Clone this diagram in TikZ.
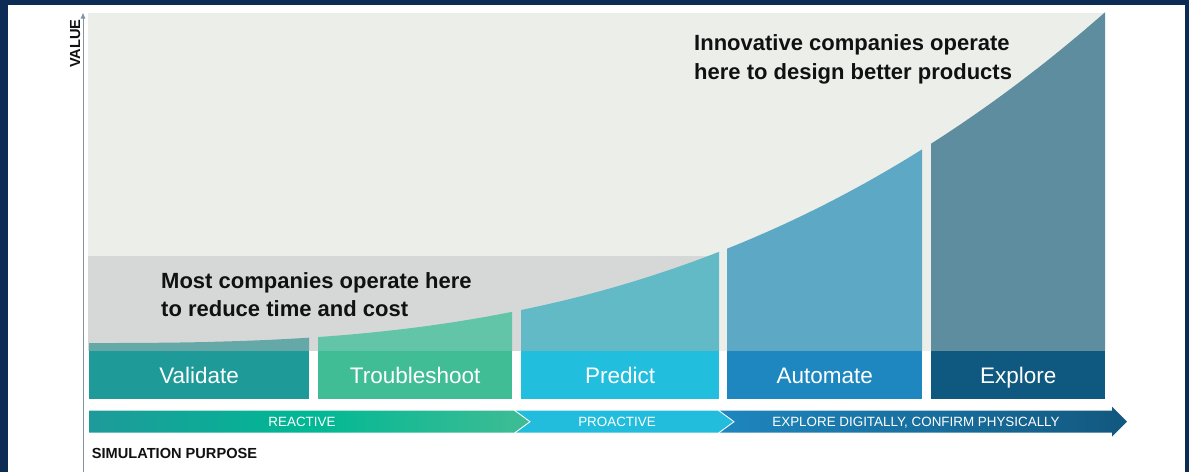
\documentclass[tikz,border=0pt]{standalone}
\usepackage{fontspec}
\setmainfont{Liberation Sans}
\usepackage{tikz}
\usetikzlibrary{arrows.meta}
\usetikzlibrary{positioning}
\usepackage{color}

\definecolor{framenavy}{HTML}{0C2B55}
\definecolor{plotbg}{HTML}{ECEEEA}
\definecolor{bandgray}{HTML}{D6D8D7}
\definecolor{axisgray}{HTML}{8293A6}
\definecolor{valtop}{HTML}{64A9A8}
\definecolor{vallow}{HTML}{1E9A98}
\definecolor{trbtop}{HTML}{62C5A8}
\definecolor{trblow}{HTML}{40BD95}
\definecolor{pretop}{HTML}{61BAC5}
\definecolor{prelow}{HTML}{22BEDE}
\definecolor{auttop}{HTML}{5DA9C5}
\definecolor{autlow}{HTML}{1E87C0}
\definecolor{exptop}{HTML}{5E8DA0}
\definecolor{explow}{HTML}{0F5880}
\definecolor{reactA}{HTML}{1E9A9A}
\definecolor{reactB}{HTML}{00B894}
\definecolor{reactC}{HTML}{40BC94}
\definecolor{proact}{HTML}{22BCDC}
\definecolor{explA}{HTML}{1E86BE}
\definecolor{explB}{HTML}{12587F}
\definecolor{claimink}{HTML}{111111}

\tikzset{
  stagebox/.style={anchor=north west,inner sep=0pt,minimum height=48pt,text=white,text height=16pt,text depth=0pt,font=\fontsize{22.5}{26}\selectfont},
  phasetext/.style={text=white,inner sep=0pt,text height=9.5pt,text depth=0pt,font=\fontsize{13.4}{16}\selectfont},
  claimtext/.style={anchor=north west,inner sep=0pt,align=left,text=claimink,font=\bfseries\fontsize{22}{28.5}\selectfont},
  axislabel/.style={inner sep=0pt,text=claimink,font=\bfseries\fontsize{14.6}{16}\selectfont},
}

\begin{document}
\begin{tikzpicture}[x=1pt,y=-1pt,declare function={valcurve(\t)=343-316*pow((\t-88)/1000,2.7);}]
    \useasboundingbox (0,0) rectangle (1189,472);
    \fill[framenavy] (0,0) rectangle (1189,472);
    \fill[white] (8,5) rectangle (1185,472);

    \fill[plotbg] (88,13) rectangle (1105,351);
    \fill[bandgray] (88,256) rectangle (719,351);

    \fill[valtop] (89,351) -- plot[domain=89:309,samples=25] (\x,{valcurve(\x)}) -- (309,351) -- cycle;
    \fill[trbtop] (318,351) -- plot[domain=318:512,samples=25] (\x,{valcurve(\x)}) -- (512,351) -- cycle;
    \fill[pretop] (521,351) -- plot[domain=521:719,samples=25] (\x,{valcurve(\x)}) -- (719,351) -- cycle;
    \fill[auttop] (727,351) -- plot[domain=727:922,samples=25] (\x,{valcurve(\x)}) -- (922,351) -- cycle;
    \fill[exptop] (931,351) -- plot[domain=931:1105,samples=25] (\x,{valcurve(\x)}) -- (1105,351) -- cycle;

    \node[stagebox,fill=vallow,minimum width=220pt] (validate) at (89,351) {Validate};
    \node[stagebox,fill=trblow,minimum width=194pt] (troubleshoot) at (318,351) {Troubleshoot};
    \node[stagebox,fill=prelow,minimum width=198pt] (predict) at (521,351) {Predict};
    \node[stagebox,fill=autlow,minimum width=195pt] (automate) at (727,351) {Automate};
    \node[stagebox,fill=explow,minimum width=174pt] (explore) at (931,351) {Explore};

    \shade[left color=reactA,right color=reactC,middle color=reactB] (89,410.7) -- (514,410.7) -- (529,421.7) -- (514,432.7) -- (89,432.7) -- cycle;
    \fill[proact] (516,410.7) -- (718,410.7) -- (733,421.7) -- (718,432.7) -- (516,432.7) -- (531,421.7) -- cycle;
    \shade[left color=explA,right color=explB] (720,410.7) -- (1112,410.7) -- (1112,406.7) -- (1127,421.7) -- (1112,436.7) -- (1112,432.7) -- (720,432.7) -- (735,421.7) -- cycle;

    \node[phasetext] (reactive) at (302,421.7) {REACTIVE};
    \node[phasetext] (proactive) at (617,421.7) {PROACTIVE};
    \node[phasetext] (digital) at (916,421.7) {EXPLORE DIGITALLY, CONFIRM PHYSICALLY};

    \node[claimtext] (most) at (161,272.3) {Most companies operate here\\to reduce time and cost};
    \node[claimtext] (innovative) at (694,34.6) {Innovative companies operate\\here to design better products};

    \coordinate (axisfoot) at (83,472);
    \coordinate (axistop) at (83,12.5);
    \draw[axisgray,line width=0.9pt,-{Latex[length=6pt,width=5pt]}] (axisfoot) -- (axistop);
    \node[axislabel,rotate=90,anchor=base] (value) at (80.2,43.5) {VALUE};
    \node[axislabel,anchor=base west] (purpose) at (91.7,458.3) {SIMULATION PURPOSE};
\end{tikzpicture}
\end{document}
